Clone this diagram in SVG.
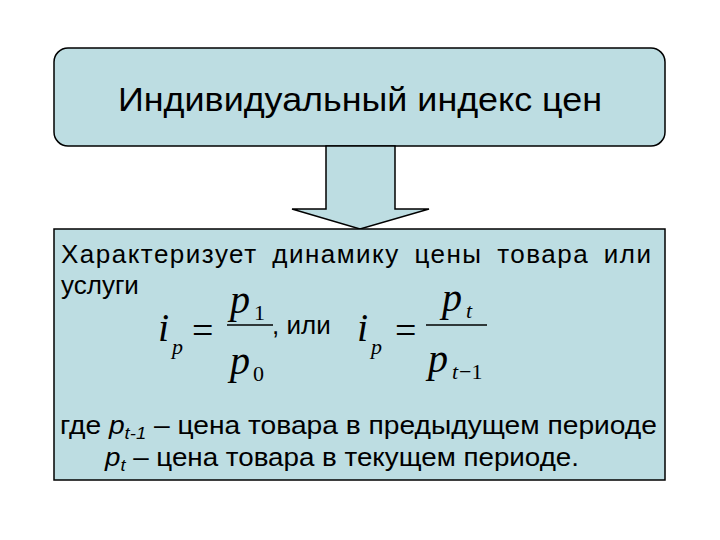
<svg xmlns="http://www.w3.org/2000/svg" width="720" height="540" viewBox="0 0 720 540">
<style>
.b{fill:#bddde2;stroke:#000;stroke-width:1.5}
.t{font-family:"Liberation Sans",Arial,sans-serif;fill:#000}
.m{font-family:"Liberation Serif","Times New Roman",serif;font-style:italic;fill:#000}
.r{font-family:"Liberation Serif","Times New Roman",serif;fill:#000}
</style>
<rect width="720" height="540" fill="#fff"/>
<g id="title">
<rect class="b" x="54" y="48" width="611" height="98" rx="14"/>
<text class="t" x="118" y="111" font-size="34" textLength="484" lengthAdjust="spacingAndGlyphs">Индивидуальный индекс цен</text>
</g>
<g id="connectors">
<polygon class="b" points="326,146 395,146 395,209 429,209 360,229 292,209 326,209"/>
</g>
<g id="body">
<rect class="b" x="54" y="229" width="611" height="251"/>
<text class="t" x="61" y="263" font-size="26" textLength="590" lengthAdjust="spacing" word-spacing="6">Характеризует динамику цены товара или</text>
<text class="t" x="61" y="294" font-size="26">услуги</text>
<text class="m" x="158" y="341" font-size="40">i</text>
<text class="m" x="172" y="354" font-size="22">p</text>
<text class="r" x="192" y="343" font-size="38">=</text>
<line x1="227" y1="325" x2="273" y2="325" stroke="#000" stroke-width="1.6"/>
<text class="m" x="230" y="313" font-size="40">p</text>
<text class="r" x="254" y="320" font-size="22">1</text>
<text class="m" x="230" y="374" font-size="40">p</text>
<text class="r" x="253" y="381" font-size="22">0</text>
<text class="t" x="272" y="334" font-size="26">, или</text>
<text class="m" x="357" y="341" font-size="40">i</text>
<text class="m" x="371" y="354" font-size="22">p</text>
<text class="r" x="395" y="343" font-size="38">=</text>
<line x1="426" y1="325" x2="487" y2="325" stroke="#000" stroke-width="1.6"/>
<text class="m" x="442" y="311" font-size="40">p</text>
<text class="m" x="466" y="318" font-size="22">t</text>
<text class="m" x="428" y="372" font-size="40">p</text>
<text class="m" x="452" y="379" font-size="22">t</text>
<text class="r" x="459" y="379" font-size="22">−1</text>
<text class="t" x="60" y="434" font-size="26" textLength="597" lengthAdjust="spacingAndGlyphs">где <tspan font-style="italic">p</tspan><tspan font-style="italic" font-size="17" dy="5">t-1</tspan><tspan dy="-5"> – цена товара в предыдущем периоде</tspan></text>
<text class="t" x="105" y="466" font-size="26" textLength="474" lengthAdjust="spacingAndGlyphs"><tspan font-style="italic">p</tspan><tspan font-style="italic" font-size="17" dy="5">t</tspan><tspan dy="-5"> – цена товара в текущем периоде.</tspan></text>
</g>
</svg>
